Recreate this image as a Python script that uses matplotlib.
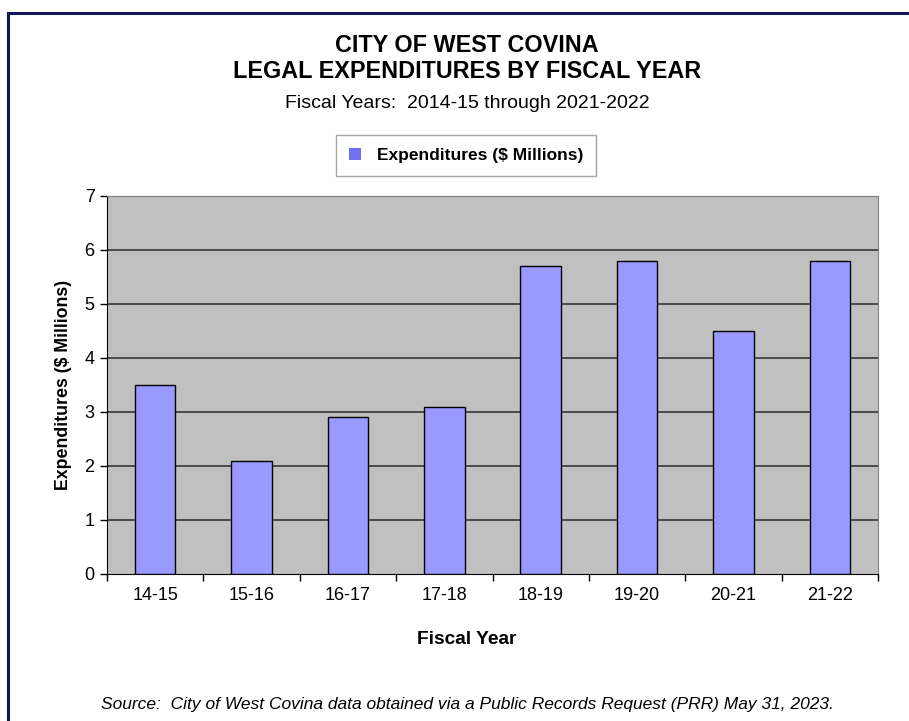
import matplotlib.pyplot as plt
from matplotlib.patches import Patch
from matplotlib.lines import Line2D

plt.rcParams["font.family"] = ["Liberation Sans", "DejaVu Sans"]

fiscal_years = ["14-15", "15-16", "16-17", "17-18", "18-19", "19-20", "20-21", "21-22"]
expenditures = [3.5, 2.1, 2.9, 3.1, 5.7, 5.8, 4.5, 5.8]
y_ticks = [0, 1, 2, 3, 4, 5, 6, 7]

W, H = 909, 721
fig = plt.figure(figsize=(W / 100, H / 100), dpi=100)
fig.patch.set_facecolor("white")

# navy frame (top and left edges visible)
fig.add_artist(Line2D([8 / W, 1.0], [1 - 12.5 / H, 1 - 12.5 / H], color="#14145a", lw=2.2))
fig.add_artist(Line2D([8 / W, 8 / W], [0.0, 1 - 12.5 / H], color="#14145a", lw=2.2))

ax = fig.add_axes([107 / W, (H - 574) / H, (878 - 107) / W, (574 - 196) / H])
ax.set_facecolor("#c0c0c0")

x = list(range(len(fiscal_years)))
ax.bar(x, expenditures, width=0.42, color="#9999ff", edgecolor="black", linewidth=1.0, zorder=3)

for v in y_ticks[1:-1]:
    ax.axhline(v, color="#2a2a2a", lw=1.1, zorder=1)

ax.set_xlim(-0.5, len(fiscal_years) - 0.5)
ax.set_ylim(0, 7)
ax.set_yticks(y_ticks)
ax.tick_params(axis="y", direction="out", length=5, width=1, labelsize=13, pad=4)

ax.set_xticks(x)
ax.set_xticklabels(fiscal_years)
ax.set_xticks([i - 0.5 for i in range(len(fiscal_years) + 1)], minor=True)
ax.tick_params(axis="x", which="major", length=0, labelsize=13, pad=9)
ax.tick_params(axis="x", which="minor", direction="out", length=5, width=1)

for side in ["top", "right"]:
    ax.spines[side].set_color("#808080")
for side in ["left", "bottom"]:
    ax.spines[side].set_color("black")

ax.set_ylabel("Expenditures ($ Millions)", fontsize=12.8, fontweight="bold", labelpad=9)

cx = 467 / W
fig.text(cx, 1 - 45 / H, "CITY OF WEST COVINA", ha="center", va="center", fontsize=16.8, fontweight="bold")
fig.text(cx, 1 - 71 / H, "LEGAL EXPENDITURES BY FISCAL YEAR", ha="center", va="center", fontsize=16.8, fontweight="bold")
fig.text(cx, 1 - 104 / H, "Fiscal Years:  2014-15 through 2021-2022", ha="center", va="center", fontsize=14)
fig.text(cx, 1 - 639 / H, "Fiscal Year", ha="center", va="center", fontsize=13.8, fontweight="bold")
fig.text(cx, 1 - 704 / H, "Source:  City of West Covina data obtained via a Public Records Request (PRR) May 31, 2023.",
         ha="center", va="center", fontsize=12.5, style="italic")

handle = Patch(facecolor="#7070f0", edgecolor="none")
leg = fig.legend([handle], ["Expenditures ($ Millions)"], loc="center",
                 bbox_to_anchor=(466 / W, 1 - 155.5 / H), fancybox=False, frameon=True,
                 edgecolor="#909090", prop={"size": 12.5, "weight": "bold"},
                 handlelength=0.7, handleheight=0.7, handletextpad=0.9, borderpad=0.75,
                 borderaxespad=0)
leg.get_frame().set_linewidth(1.0)

fig.savefig("out.png", dpi=100)
